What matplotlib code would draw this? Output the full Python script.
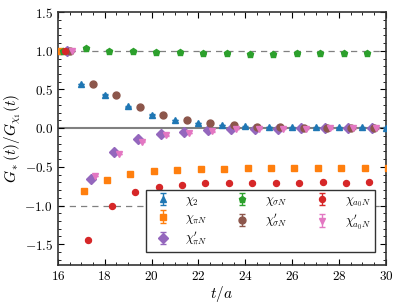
import matplotlib
matplotlib.use("Agg")
import matplotlib.pyplot as plt
import numpy as np
from matplotlib.ticker import MultipleLocator

matplotlib.rcParams.update({
    'font.family': 'serif',
    'font.serif': ['cmr10'],
    'mathtext.fontset': 'cm',
    'axes.formatter.use_mathtext': True,
    'font.size': 9.5,
})

# time slices
t = np.arange(16, 30)
t_long = np.arange(16, 31)

chi2 = [1.0, 0.569, 0.432, 0.281, 0.173, 0.108, 0.065, 0.039, 0.022, 0.013,
        0.010, 0.009, 0.009, 0.009, 0.008]
chi_piN = [1.0, -0.81, -0.664, -0.59, -0.556, -0.543, -0.53, -0.525, -0.521,
           -0.517, -0.517, -0.517, -0.517, -0.513, -0.51]
chi_piN_p = [1.0, -0.66, -0.314, -0.142, -0.073, -0.043, -0.021, -0.012,
             -0.008, -0.005, -0.004, -0.003, -0.002, -0.002]
chi_sigN = [1.0, 1.031, 1.0, 0.992, 0.983, 0.979, 0.966, 0.966, 0.962, 0.962,
            0.966, 0.970, 0.970, 0.970]
chi_sigN_p = [1.0, 0.569, 0.423, 0.272, 0.164, 0.104, 0.063, 0.037, 0.020,
              0.010, 0.006, 0.004, 0.003, 0.002]
chi_a0N = [1.0, -1.449, -1.009, -0.828, -0.754, -0.728, -0.715, -0.715,
           -0.706, -0.706, -0.706, -0.702, -0.706, -0.693]
chi_a0N_p = [1.0, -0.62, -0.336, -0.176, -0.094, -0.064, -0.039, -0.012,
             -0.008, -0.006, -0.005, -0.004, -0.003, -0.003]

# (label, times, values, error, offset, color, marker, size)
series = [
    (r'$\chi_2$', t_long, chi2, 0.004, 0.0, 'tab:blue', '^', 5.0),
    (r'$\chi_{\pi N}$', t_long, chi_piN, 0.004, 0.1, 'tab:orange', 's', 4.6),
    (r"$\chi_{\pi N}^{\prime}$", t, chi_piN_p, 0.004, 0.4, 'tab:purple', 'D', 4.6),
    (r'$\chi_{\sigma N}$', t, chi_sigN, 0.004, 0.2, 'tab:green', 'p', 5.0),
    (r"$\chi_{\sigma N}^{\prime}$", t, chi_sigN_p, 0.004, 0.5, 'tab:brown', 'o', 5.0),
    (r'$\chi_{a_0 N}$', t, chi_a0N, 0.004, 0.3, 'tab:red', 'o', 4.3),
    (r"$\chi_{a_0 N}^{\prime}$", t, chi_a0N_p, 0.004, 0.6, 'tab:pink', 'v', 5.0),
]

fig = plt.figure(figsize=(3.99, 3.03), dpi=100)
ax = fig.add_axes([0.145, 0.125, 0.822, 0.835])

ax.axhline(0.0, color='gray', lw=1.5, zorder=1)
ax.axhline(1.0, color='gray', lw=0.9, ls=(0, (5, 4)), zorder=1)
ax.axhline(-1.0, color='gray', lw=0.9, ls=(0, (5, 4)), zorder=1)

for label, tt, vals, err, off, col, mk, ms in series:
    ax.errorbar(tt + off, vals, yerr=err, fmt=mk, color=col, ms=ms,
                capsize=2, elinewidth=1, label=label, zorder=3)

ax.set_xlim(16, 30)
ax.set_ylim(-1.77, 1.5)
ax.xaxis.set_major_locator(MultipleLocator(2))
ax.xaxis.set_minor_locator(MultipleLocator(0.5))
ax.yaxis.set_major_locator(MultipleLocator(0.5))
ax.yaxis.set_minor_locator(MultipleLocator(0.1))
ax.tick_params(which='both', direction='in', top=True, right=True)
ax.tick_params(which='major', length=4)
ax.tick_params(which='minor', length=2)
for s in ax.spines.values():
    s.set_linewidth(1.2)
    s.set_color('#333333')

ax.set_xlabel(r'$t/a$', fontsize=11, labelpad=1)
ax.set_ylabel(r'$G_*(t)/G_{\chi_1}(t)$', fontsize=11, labelpad=1)

leg = ax.legend(ncol=3, loc='lower left', bbox_to_anchor=(0.25, 0.026, 0.735, 0.24),
                mode='expand', fancybox=False, framealpha=1, edgecolor='#333333',
                fontsize=9, borderpad=0.35, labelspacing=0.3)
leg.get_frame().set_linewidth(1.0)

fig.savefig('out.png', dpi=100)
